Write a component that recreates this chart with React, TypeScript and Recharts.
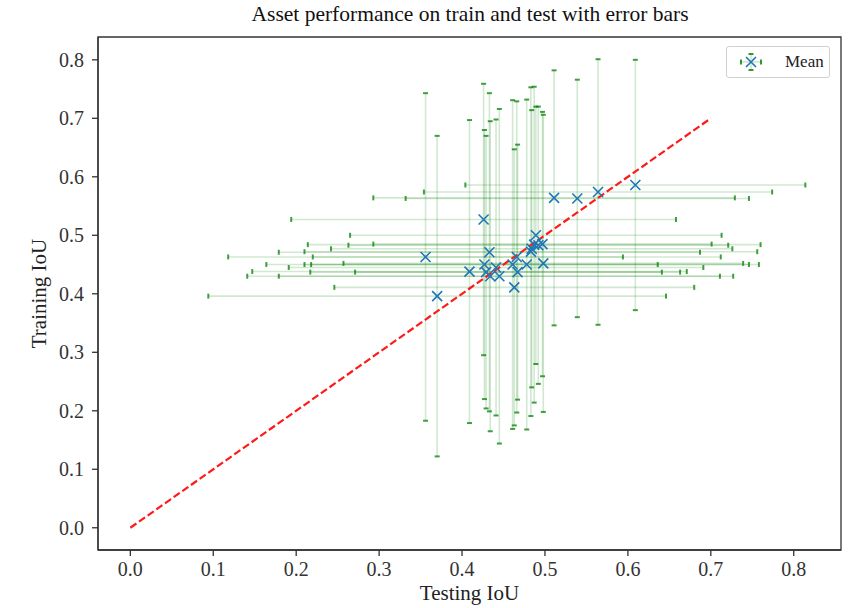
import React from "react";
import {
  ScatterChart,
  Scatter,
  XAxis,
  YAxis,
  ErrorBar,
  ReferenceLine,
  ReferenceArea,
  Legend,
} from "recharts";

// mean IoU per asset (test on x, train on y) and the std used for the error bars
const testMean = [0.356, 0.37, 0.409, 0.426, 0.427, 0.429, 0.433, 0.434, 0.441, 0.445, 0.461, 0.463, 0.466, 0.467, 0.478, 0.483, 0.484, 0.487, 0.489, 0.492, 0.497, 0.498, 0.511, 0.539, 0.564, 0.609];
const trainMean = [0.463, 0.396, 0.438, 0.527, 0.45, 0.437, 0.471, 0.43, 0.445, 0.43, 0.45, 0.411, 0.463, 0.437, 0.45, 0.472, 0.477, 0.484, 0.5, 0.483, 0.485, 0.452, 0.564, 0.563, 0.574, 0.586];
const testStd = [0.238, 0.276, 0.262, 0.232, 0.209, 0.212, 0.254, 0.293, 0.25, 0.266, 0.297, 0.217, 0.246, 0.196, 0.268, 0.273, 0.242, 0.273, 0.224, 0.229, 0.204, 0.241, 0.218, 0.207, 0.21, 0.205];
const trainStd = [0.28, 0.274, 0.259, 0.232, 0.23, 0.233, 0.272, 0.265, 0.253, 0.286, 0.281, 0.236, 0.266, 0.218, 0.282, 0.281, 0.237, 0.27, 0.22, 0.237, 0.226, 0.254, 0.218, 0.203, 0.227, 0.214];

// diagonal y = x reference
const diagStart = 0;
const diagEnd = 0.7;

const xTicks = [0, 0.1, 0.2, 0.3, 0.4, 0.5, 0.6, 0.7, 0.8];
const yTicks = [0, 0.1, 0.2, 0.3, 0.4, 0.5, 0.6, 0.7, 0.8];
const xDomain = [-0.039, 0.857];
const yDomain = [-0.038, 0.839];

const data = testMean.map((x, i) => ({
  x,
  y: trainMean[i],
  xerr: testStd[i],
  yerr: trainStd[i],
}));

const BLUE = "#1f77b4";
const GREEN = "#008000";
const FONT = "'Liberation Serif', 'Times New Roman', serif";

// matplotlib "x" marker
const XMark = (props: any) => {
  const { cx, cy } = props;
  if (cx == null || cy == null) return null;
  const r = 5;
  return (
    <path
      d={`M${cx - r},${cy - r}L${cx + r},${cy + r}M${cx - r},${cy + r}L${cx + r},${cy - r}`}
      stroke={BLUE}
      strokeWidth={1.6}
      fill="none"
    />
  );
};

const LegendBox = () => (
  <div
    style={{
      width: 104,
      height: 32,
      boxSizing: "border-box",
      border: "1px solid #d0d0d0",
      borderRadius: 3,
      background: "#fff",
      display: "flex",
      alignItems: "center",
      fontFamily: FONT,
      fontSize: 17,
      color: "#222",
    }}
  >
    <svg width={50} height={30}>
      <line x1={14} y1={15} x2={34} y2={15} stroke={GREEN} strokeOpacity={0.2} strokeWidth={1.5} />
      <line x1={24} y1={7} x2={24} y2={23} stroke={GREEN} strokeOpacity={0.2} strokeWidth={1.5} />
      <line x1={14} y1={12.5} x2={14} y2={17.5} stroke={GREEN} strokeOpacity={0.8} strokeWidth={2} />
      <line x1={34} y1={12.5} x2={34} y2={17.5} stroke={GREEN} strokeOpacity={0.8} strokeWidth={2} />
      <line x1={21.5} y1={7} x2={26.5} y2={7} stroke={GREEN} strokeOpacity={0.8} strokeWidth={2} />
      <line x1={21.5} y1={23} x2={26.5} y2={23} stroke={GREEN} strokeOpacity={0.8} strokeWidth={2} />
      <XMark cx={24} cy={15} />
    </svg>
    <span style={{ marginLeft: 8 }}>Mean</span>
  </div>
);

const YTitle = (props: any) => {
  const { viewBox } = props;
  const cy = viewBox.y + viewBox.height / 2;
  return (
    <text x={46} y={cy} transform={`rotate(-90 46 ${cy})`} textAnchor="middle" fontFamily={FONT} fontSize={21} fill="#222">
      Training IoU
    </text>
  );
};

const XTitle = (props: any) => {
  const { viewBox } = props;
  return (
    <text x={viewBox.x + viewBox.width / 2} y={600} textAnchor="middle" fontFamily={FONT} fontSize={21} fill="#222">
      Testing IoU
    </text>
  );
};

const css = `
.asset-chart .recharts-errorBar line { stroke-opacity: 0.75; stroke-width: 2; }
.asset-chart .recharts-errorBar line:nth-of-type(2) { stroke-opacity: 0.18; stroke-width: 1.6; }
`;

export default function App() {
  const tickStyle = { fontFamily: FONT, fontSize: 20, fill: "#333" };
  return (
    <div className="asset-chart" style={{ position: "absolute", left: 0, top: 0, width: 851, height: 608, background: "#fff" }}>
      <style>{css}</style>
      <div
        style={{
          position: "absolute",
          top: 2,
          left: 90,
          width: 760,
          textAlign: "center",
          fontFamily: FONT,
          fontSize: 21.5,
          color: "#111",
          zIndex: 2,
        }}
      >
        Asset performance on train and test with error bars
      </div>
      <ScatterChart width={851} height={608} margin={{ top: 37, right: 10, left: 0, bottom: 0 }}>
        <XAxis
          type="number"
          dataKey="x"
          domain={xDomain}
          ticks={xTicks}
          allowDataOverflow
          tickFormatter={(v: number) => v.toFixed(1)}
          tick={tickStyle}
          tickSize={6}
          tickMargin={6}
          height={58}
          axisLine={{ stroke: "#333", strokeWidth: 1.3 }}
          tickLine={{ stroke: "#333", strokeWidth: 1.3 }}
          label={<XTitle />}
        />
        <YAxis
          type="number"
          dataKey="y"
          domain={yDomain}
          ticks={yTicks}
          allowDataOverflow
          tickFormatter={(v: number) => v.toFixed(1)}
          tick={tickStyle}
          tickSize={6}
          tickMargin={8}
          width={98}
          axisLine={{ stroke: "#333", strokeWidth: 1.3 }}
          tickLine={{ stroke: "#333", strokeWidth: 1.3 }}
          label={<YTitle />}
        />
        <ReferenceArea
          x1={xDomain[0]}
          x2={xDomain[1]}
          y1={yDomain[0]}
          y2={yDomain[1]}
          fill="none"
          stroke="#333"
          strokeWidth={1.3}
          ifOverflow="visible"
        />
        <Scatter data={data} shape={XMark} isAnimationActive={false} legendType="none">
          <ErrorBar dataKey="xerr" direction="x" width={2.5} stroke={GREEN} strokeWidth={1.5} isAnimationActive={false} />
          <ErrorBar dataKey="yerr" direction="y" width={2.5} stroke={GREEN} strokeWidth={1.5} isAnimationActive={false} />
        </Scatter>
        <ReferenceLine
          segment={[
            { x: diagStart, y: diagStart },
            { x: diagEnd, y: diagEnd },
          ]}
          stroke="#ff1a1a"
          strokeWidth={2.2}
          strokeDasharray="7.4 3.2"
        />
        <Legend
          layout="horizontal"
          verticalAlign="middle"
          align="center"
          content={() => <LegendBox />}
          wrapperStyle={{ left: 726, top: 46, width: 104, height: 32 }}
        />
      </ScatterChart>
    </div>
  );
}
